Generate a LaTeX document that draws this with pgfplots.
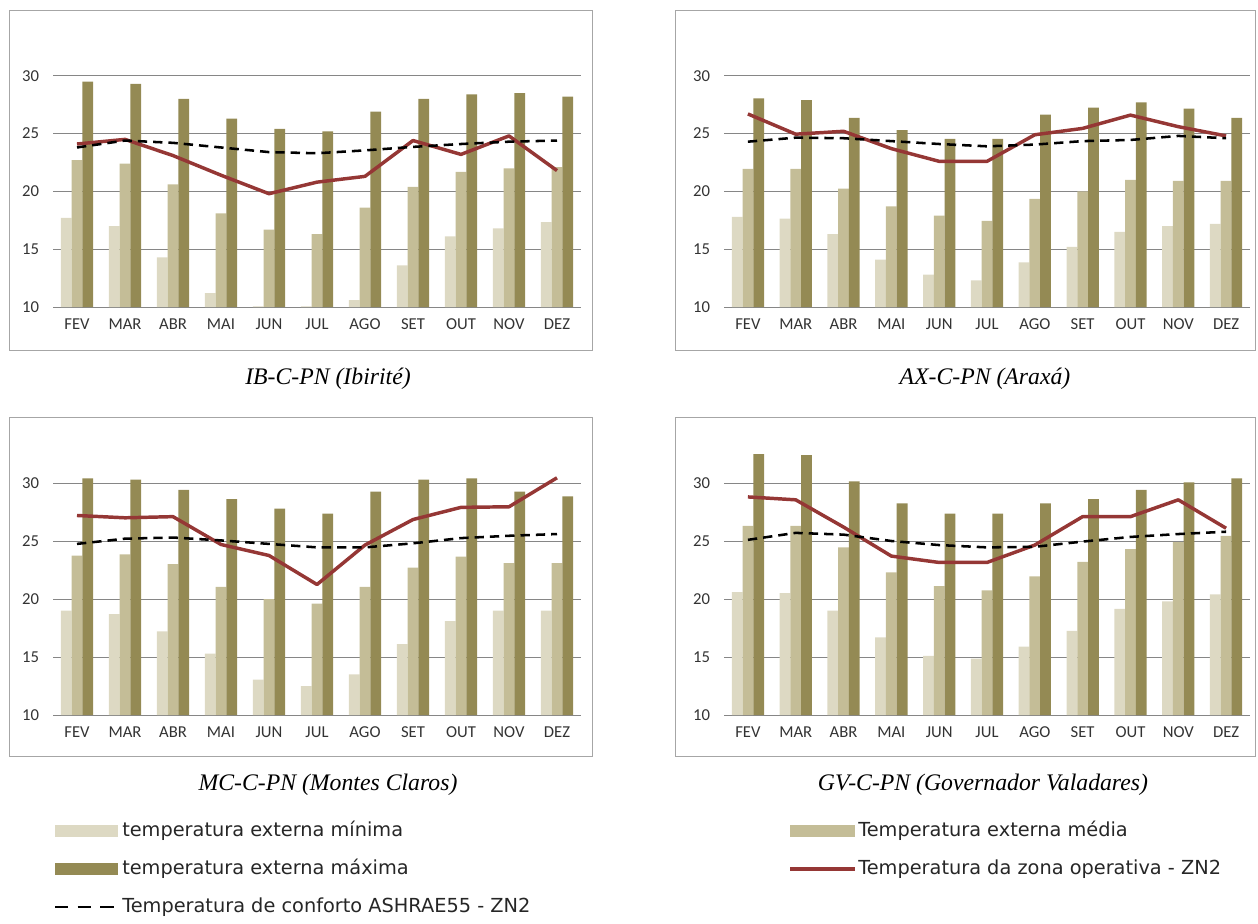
\documentclass[border=0pt]{standalone}
\usepackage{pgfplots}
\usepackage{pgfplotstable}
\usepackage{fontspec}
\pgfplotsset{compat=1.18}
\setmainfont{Liberation Serif}
\newfontfamily\tickfont{Carlito}
\newfontfamily\legfont{DejaVu Sans}

\definecolor{tmin}{HTML}{DDD9C3}
\definecolor{tmed}{HTML}{C4BD97}
\definecolor{tmax}{HTML}{948A54}
\definecolor{zona}{HTML}{953735}
\definecolor{moldura}{HTML}{A6A6A6}
\definecolor{grade}{HTML}{868686}

% x: FEV=0 ... DEZ=10
\pgfplotstableread{
x  min   med   max   op    conf
0  17.7  22.7  29.5  24.1  23.8
1  17.0  22.4  29.3  24.5  24.4
2  14.3  20.6  28.0  23.1  24.2
3  11.2  18.1  26.3  21.4  23.8
4  10.05 16.7  25.4  19.8  23.4
5  10.05 16.3  25.2  20.8  23.3
6  10.6  18.6  26.9  21.3  23.55
7  13.6  20.4  28.0  24.4  23.85
8  16.1  21.7  28.4  23.2  24.1
9  16.8  22.0  28.5  24.8  24.3
10 17.35 22.1  28.2  21.8  24.4
}\ibirite

\pgfplotstableread{
x  min   med   max   op    conf
0  17.8  21.95 28.05 26.7  24.3
1  17.65 21.95 27.9  24.95 24.65
2  16.3  20.25 26.35 25.2  24.6
3  14.1  18.7  25.3  23.7  24.35
4  12.8  17.9  24.55 22.6  24.1
5  12.3  17.45 24.55 22.6  23.9
6  13.85 19.35 26.65 24.9  24.05
7  15.2  20.0  27.25 25.45 24.35
8  16.5  21.0  27.7  26.6  24.45
9  17.0  20.9  27.15 25.6  24.8
10 17.2  20.9  26.35 24.8  24.6
}\araxa

\pgfplotstableread{
x  min   med   max   op    conf
0  19.0  23.75 30.4  27.2  24.75
1  18.7  23.85 30.3  27.0  25.2
2  17.2  23.0  29.4  27.1  25.3
3  15.3  21.05 28.6  24.7  25.05
4  13.05 20.0  27.8  23.75 24.75
5  12.5  19.6  27.35 21.25 24.45
6  13.5  21.05 29.25 24.65 24.45
7  16.1  22.7  30.3  26.85 24.8
8  18.1  23.65 30.4  27.9  25.25
9  19.0  23.1  29.25 27.95 25.45
10 19.0  23.1  28.85 30.45 25.6
}\montesclaros

\pgfplotstableread{
x  min   med   max   op    conf
0  20.6  26.3  32.5  28.8  25.1
1  20.5  26.3  32.4  28.55 25.7
2  19.0  24.45 30.15 26.2  25.55
3  16.7  22.3  28.25 23.7  25.0
4  15.1  21.1  27.35 23.15 24.65
5  14.85 20.75 27.35 23.15 24.45
6  15.9  21.95 28.25 24.65 24.5
7  17.25 23.2  28.6  27.1  24.95
8  19.15 24.3  29.4  27.1  25.35
9  19.8  24.9  30.05 28.55 25.6
10 20.4  25.45 30.4  26.1  25.8
}\valadares

\pgfplotsset{
  painel/.style={
    scale only axis, anchor=south west,
    width=396pt, height=216.75pt,
    xmin=-0.5, xmax=10.5, ymin=10, ymax=35,
    xtick={0,...,10},
    xticklabels={FEV,MAR,ABR,MAI,JUN,JUL,AGO,SET,OUT,NOV,DEZ},
    ytick={10,15,20,25,30},
    /pgf/number format/assume math mode=true,
    axis line style={draw=none}, major tick style={draw=none},
    ymajorgrids, grid style={grade, line width=0.75pt},
    tick label style={font=\tickfont\fontsize{12.5}{14}\selectfont, text=black!80},
    yticklabel style={xshift=-7pt},
    xticklabel style={yshift=-5pt},
  },
  bmin/.style={ybar, bar width=0.225, bar shift=-0.225, fill=tmin, draw=none},
  bmed/.style={ybar, bar width=0.225, bar shift=0, fill=tmed, draw=none},
  bmax/.style={ybar, bar width=0.225, bar shift=0.225, fill=tmax, draw=none},
  lop/.style={zona, line width=2.6pt, line join=round},
  lconf/.style={black, line width=1.9pt, dash pattern=on 7pt off 4.5pt},
}

\newcommand{\series}[1]{%
  \addplot[bmin] table[x=x, y=min] {#1};
  \addplot[bmed] table[x=x, y=med] {#1};
  \addplot[bmax] table[x=x, y=max] {#1};
  \addplot[lop] table[x=x, y=op] {#1};
  \addplot[lconf] table[x=x, y=conf] {#1};
}

\begin{document}
\begin{tikzpicture}
\path[use as bounding box] (0,0) rectangle (943.5pt,-693pt);

% frames and captions, in pixels of the reference
\begin{scope}[x=0.75pt, y=-0.75pt]
  \draw[moldura, line width=0.75pt] (9,11) rectangle (592,350);
  \draw[moldura, line width=0.75pt] (675,11) rectangle (1255,350);
  \draw[moldura, line width=0.75pt] (9,417) rectangle (592,756);
  \draw[moldura, line width=0.75pt] (675,417) rectangle (1255,756);
  \begin{scope}[every node/.style={font=\itshape\fontsize{17.8}{20}\selectfont}]
    \node at (328,379) {IB-C-PN (Ibirité)};
    \node at (985,379) {AX-C-PN (Araxá)};
    \node at (328,785) {MC-C-PN (Montes Claros)};
    \node at (983,785) {GV-C-PN (Governador Valadares)};
  \end{scope}
  % legend
  \begin{scope}[every node/.style={anchor=west, inner sep=0pt, text=black!85,
      font=\legfont\fontsize{14.5}{16}\selectfont}]
    \fill[tmin] (55,825) rectangle (118,837);
    \node at (122,831) {temperatura externa mínima};
    \fill[tmax] (55,863) rectangle (118,875);
    \node at (122,869) {temperatura externa máxima};
    \draw[black, line width=2.2pt, dash pattern=on 10pt off 7pt] (55,907) -- (118,907);
    \node at (122,907) {Temperatura de conforto ASHRAE55 - ZN2};
    \fill[tmed] (790,825) rectangle (855,837);
    \node at (858,831) {Temperatura externa média};
    \draw[zona, line width=3pt] (790,869) -- (855,869);
    \node at (858,869) {Temperatura da zona operativa - ZN2};
  \end{scope}
\end{scope}

\begin{axis}[painel, at={(39.75pt,-230.25pt)}]
  \series{\ibirite}
\end{axis}

\begin{axis}[painel, at={(543pt,-230.25pt)}, width=394.5pt]
  \series{\araxa}
\end{axis}

\begin{axis}[painel, at={(39.75pt,-536.25pt)}, height=217.5pt]
  \series{\montesclaros}
\end{axis}

\begin{axis}[painel, at={(543pt,-536.25pt)}, width=394.5pt, height=217.5pt]
  \series{\valadares}
\end{axis}
\end{tikzpicture}
\end{document}
